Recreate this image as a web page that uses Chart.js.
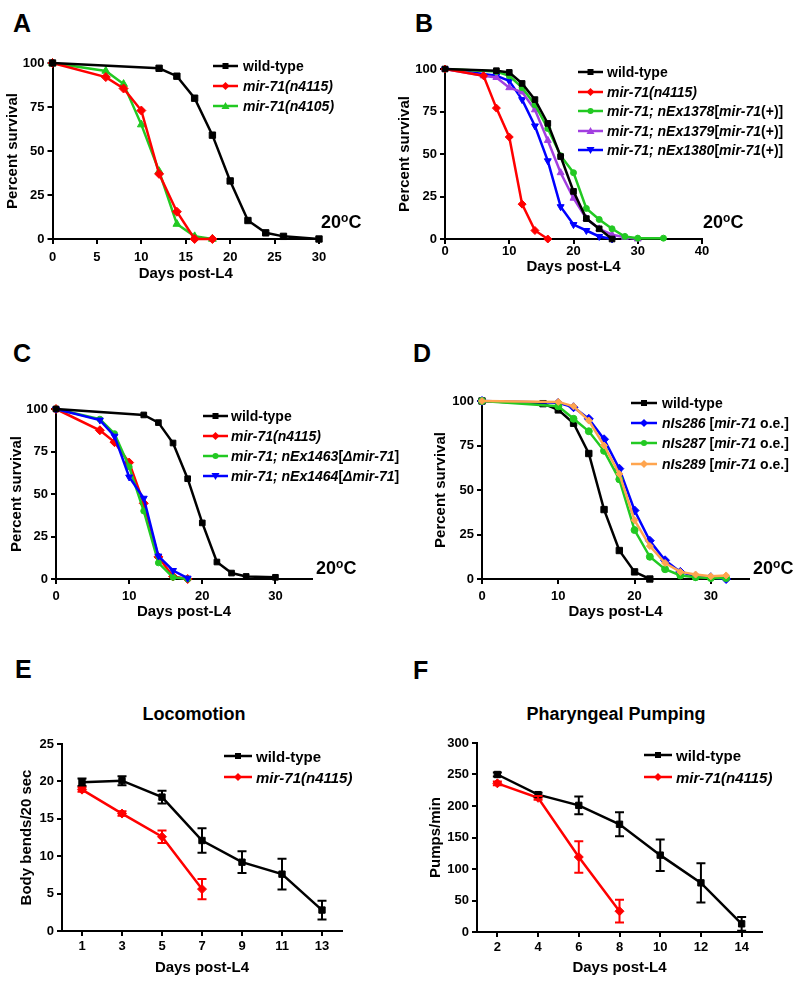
<!DOCTYPE html>
<html>
<head>
<meta charset="utf-8">
<script src="https://cdn.jsdelivr.net/npm/chart.js@4.4.1/dist/chart.umd.min.js"></script>
<style>
body { margin: 0; background: #fff; font-family: 'Liberation Sans', Arial, sans-serif; }
#page { position: relative; width: 800px; height: 984px; overflow: hidden; }
#page canvas { position: absolute; }
.txt { position: absolute; font-weight: bold; color: #000; white-space: nowrap; }
.letter { font-size: 25px; line-height: 25px; }
.temp { font-size: 18px; line-height: 22px; }
.temp sup { font-size: 12px; vertical-align: 6px; line-height: 0; }
.ptitle { font-size: 18px; line-height: 22px; transform: translateX(-50%); }
.legrow { position: absolute; height: 20px; display: flex; align-items: center; font-weight: bold; white-space: nowrap; }
</style>
</head>
<body>
<div id="page"></div>
<script>
'use strict';

// ---------- data ----------
// A
const daysA_wt = [0, 12, 14, 16, 18, 20, 22, 24, 26, 30];
const survA_wt = [100, 97, 92.5, 80, 59, 33, 10.5, 3.5, 1.5, 0];
const daysA_n4115 = [0, 6, 8, 10, 12, 14, 16, 18];
const survA_n4115 = [100, 92, 85.5, 73, 37, 15.5, 0, 0];
const daysA_n4105 = [0, 6, 8, 10, 12, 14, 16, 18];
const survA_n4105 = [100, 95.5, 88, 65, 38.5, 8.5, 1.5, 0];
const namesA = ['wild-type', '<i>mir-71(n4115)</i>', '<i>mir-71(n4105)</i>'];

// B
const daysB_wt = [0, 8, 10, 12, 14, 16, 18, 20, 22, 24, 26];
const survB_wt = [100, 99, 98, 91.5, 82, 68, 48.5, 28, 12, 6, 0];
const daysB_n4115 = [0, 6, 8, 10, 12, 14, 16];
const survB_n4115 = [100, 96, 77, 60, 20.5, 5, 0];
const daysB_1378 = [0, 8, 10, 12, 14, 16, 18, 20, 22, 24, 26, 28, 30, 34];
const survB_1378 = [100, 98.5, 96, 89, 79, 65, 49, 39, 18, 11.5, 6, 1.5, 0.5, 0.5];
const daysB_1379 = [0, 6, 8, 10, 12, 14, 16, 18, 20, 22, 24, 26, 28, 30];
const survB_1379 = [100, 96, 95, 89, 86.5, 76, 58, 39, 24, 12, 6, 2.5, 1, 0];
const daysB_1380 = [0, 8, 10, 12, 14, 16, 18, 20, 22, 24, 26];
const survB_1380 = [100, 96, 93, 82, 66.5, 46, 19, 8.5, 5, 1.5, 0];
const namesB = ['wild-type', '<i>mir-71(n4115)</i>',
    '<i>mir-71; nEx1378</i>[<i>mir-71</i>(+)]',
    '<i>mir-71; nEx1379</i>[<i>mir-71</i>(+)]',
    '<i>mir-71; nEx1380</i>[<i>mir-71</i>(+)]'];

// C
const daysC_wt = [0, 12, 14, 16, 18, 20, 22, 24, 26, 30];
const survC_wt = [100, 96.5, 92, 80, 59, 33, 10, 3.5, 1.5, 1];
const daysC_n4115 = [0, 6, 8, 10, 12, 14, 16, 18];
const survC_n4115 = [100, 87.5, 80.5, 68.5, 44.5, 13, 1.5, 0];
const daysC_1463 = [0, 6, 8, 10, 12, 14, 16, 18];
const survC_1463 = [100, 94, 85.5, 66, 40, 9.5, 1, 0];
const daysC_1464 = [0, 6, 8, 10, 12, 14, 16, 18];
const survC_1464 = [100, 93.5, 84, 60, 47.5, 13.5, 5, 0.5];
const namesC = ['wild-type', '<i>mir-71(n4115)</i>',
    '<i>mir-71; nEx1463</i>[<i>Δmir-71</i>]',
    '<i>mir-71; nEx1464</i>[<i>Δmir-71</i>]'];

// D
const daysD_wt = [0, 8, 10, 12, 14, 16, 18, 20, 22];
const survD_wt = [100, 98.5, 95, 87.5, 70.5, 39, 16, 4, 0];
const daysD_oe = [0, 10, 12, 14, 16, 18, 20, 22, 24, 26, 28, 30, 32];
const survD_286 = [100, 99, 96.5, 90, 78.5, 62, 38.5, 21.5, 10.5, 4, 1.5, 1, 0];
const survD_287 = [100, 97, 90, 83, 72, 56, 27.5, 12.5, 5.5, 2, 1, 0.5, 0.5];
const survD_289 = [100, 99.5, 97, 89, 75, 59, 33, 18.5, 9, 4, 2.5, 1.5, 2];
const namesD = ['wild-type',
    '<i>nIs286</i> [<i>mir-71</i> o.e.]',
    '<i>nIs287</i> [<i>mir-71</i> o.e.]',
    '<i>nIs289</i> [<i>mir-71</i> o.e.]'];

// E - locomotion
const daysE_wt = [1, 3, 5, 7, 9, 11, 13];
const bendsE_wt = [19.9, 20.1, 17.9, 12.1, 9.2, 7.6, 2.8];
const semE_wt = [0.5, 0.6, 0.85, 1.65, 1.45, 2.05, 1.25];
const daysE_mut = [1, 3, 5, 7];
const bendsE_mut = [18.9, 15.7, 12.6, 5.6];
const semE_mut = [0.3, 0.3, 0.85, 1.35];
const namesE = ['wild-type', '<i>mir-71(n4115)</i>'];

// F - pharyngeal pumping
const daysF_wt = [2, 4, 6, 8, 10, 12, 14];
const pumpsF_wt = [250, 218, 201, 171, 122, 78, 13];
const semF_wt = [3, 3, 14, 19, 25, 31, 11];
const daysF_mut = [2, 4, 6, 8];
const pumpsF_mut = [236, 213, 119, 33];
const semF_mut = [3, 3, 25, 18];
const namesF = ['wild-type', '<i>mir-71(n4115)</i>'];

// tick labels
const ticksSurv = [0, 25, 50, 75, 100];
const ticksA = [0, 5, 10, 15, 20, 25, 30];
const ticksB = [0, 10, 20, 30, 40];
const ticksCD = [0, 10, 20, 30];
const ticksE_x = [1, 3, 5, 7, 9, 11, 13];
const ticksE_y = [0, 5, 10, 15, 20, 25];
const ticksF_x = [2, 4, 6, 8, 10, 12, 14];
const ticksF_y = [0, 50, 100, 150, 200, 250, 300];

// ---------- style ----------
const BLACK = '#000000', RED = '#ff0000', GREEN = '#22c922', PURPLE = '#a23fe0', BLUE = '#0000ff', ORANGE = '#ffa54f';

Chart.defaults.font.family = "'Liberation Sans', Arial, sans-serif";
Chart.defaults.color = '#000';

const page = document.getElementById('page');

// error bars drawn through the y scale
const errorBars = {
    id: 'errorBars',
    afterDatasetsDraw(chart) {
        const ctx = chart.ctx;
        const yScale = chart.scales.y;
        chart.data.datasets.forEach(function(ds, i) {
            if (!ds.errors) return;
            const meta = chart.getDatasetMeta(i);
            ctx.save();
            ctx.strokeStyle = ds.borderColor;
            ctx.lineWidth = 2;
            meta.data.forEach(function(pt, j) {
                const v = ds.data[j].y, e = ds.errors[j];
                const top = yScale.getPixelForValue(v + e);
                const bot = yScale.getPixelForValue(v - e);
                ctx.beginPath();
                ctx.moveTo(pt.x, top); ctx.lineTo(pt.x, bot);
                ctx.moveTo(pt.x - 4.5, top); ctx.lineTo(pt.x + 4.5, top);
                ctx.moveTo(pt.x - 4.5, bot); ctx.lineTo(pt.x + 4.5, bot);
                ctx.stroke();
            });
            ctx.restore();
        });
    }
};

function series(name, xs, ys, color, style, radius, rotation, errors) {
    return {
        label: name.replace(/<[^>]+>/g, ''),
        data: xs.map(function(x, i) { return {x: x, y: ys[i]}; }),
        borderColor: color,
        backgroundColor: color,
        pointBorderColor: color,
        pointBackgroundColor: color,
        borderWidth: 2.5,
        pointStyle: style,
        pointRadius: radius,
        pointRotation: rotation || 0,
        pointBorderWidth: 1,
        tension: 0,
        clip: false,
        errors: errors
    };
}

function axis(min, max, tickList, title, pad, fit) {
    return {
        type: 'linear',
        min: min,
        max: max,
        afterBuildTicks: function(s) { s.ticks = tickList.map(function(v) { return {value: v}; }); },
        ticks: { color: '#000', font: {size: 13, weight: 'bold'}, padding: pad, autoSkip: false, maxRotation: 0 },
        grid: { drawOnChartArea: false, drawTicks: true, tickLength: 5, color: '#000', lineWidth: 2 },
        border: { color: '#000', width: 2 },
        title: { display: true, text: title, color: '#000', font: {size: 15, weight: 'bold'}, padding: {top: 2, bottom: 0} },
        afterFit: fit
    };
}

// area = wanted chart area in page pixels
function makePanel(area, yTitleX, xTitleY, xTickPad, xMin, xMax, xTicks, yMax, yTicks, yTitle, datasets) {
    const lh = 18;
    const left = yTitleX - lh / 2 - 2;
    const W = area.l - left;
    const H = xTitleY - area.b + lh / 2;
    const top = area.t - 12;
    const canvas = document.createElement('canvas');
    canvas.width = Math.round(W + area.r - area.l + 30);
    canvas.height = Math.round(area.b - top + H);
    canvas.style.left = left + 'px';
    canvas.style.top = top + 'px';
    page.appendChild(canvas);

    new Chart(canvas, {
        type: 'line',
        data: { datasets: datasets },
        options: {
            responsive: false,
            animation: false,
            layout: { padding: {left: 0, top: 12, right: 30, bottom: 0} },
            plugins: { legend: {display: false}, tooltip: {enabled: false} },
            scales: {
                x: axis(xMin, xMax, xTicks, 'Days post-L4', xTickPad, function(s) { s.height = H; }),
                y: axis(0, yMax, yTicks, yTitle, 3, function(s) { s.width = W; })
            }
        },
        plugins: [errorBars]
    });
}

function addText(cls, html, x, y) {
    const d = document.createElement('div');
    d.className = 'txt ' + cls;
    d.innerHTML = html;
    d.style.left = x + 'px';
    d.style.top = y + 'px';
    page.appendChild(d);
}

function markerSvg(style, color, cx, cy) {
    if (style === 'rect') return '<rect x="' + (cx - 3) + '" y="' + (cy - 3) + '" width="6" height="6" fill="' + color + '"/>';
    if (style === 'circle') return '<circle cx="' + cx + '" cy="' + cy + '" r="3" fill="' + color + '"/>';
    if (style === 'triangle') return '<polygon points="' + cx + ',' + (cy - 4) + ' ' + (cx + 4) + ',' + (cy + 3) + ' ' + (cx - 4) + ',' + (cy + 3) + '" fill="' + color + '"/>';
    if (style === 'triangleDown') return '<polygon points="' + cx + ',' + (cy + 4) + ' ' + (cx + 4) + ',' + (cy - 3) + ' ' + (cx - 4) + ',' + (cy - 3) + '" fill="' + color + '"/>';
    return '<polygon points="' + cx + ',' + (cy - 4) + ' ' + (cx + 4) + ',' + cy + ' ' + cx + ',' + (cy + 4) + ' ' + (cx - 4) + ',' + cy + '" fill="' + color + '"/>';
}

function addLegend(leg, names, colors, styles, fontSize) {
    names.forEach(function(name, i) {
        const row = document.createElement('div');
        row.className = 'legrow';
        row.style.left = leg.lineX + 'px';
        row.style.top = (leg.rows[i] - 10) + 'px';
        row.style.fontSize = fontSize + 'px';
        const L = leg.lineLen;
        row.innerHTML = '<svg width="' + L + '" height="12" style="flex:none">' +
            '<line x1="0" y1="6" x2="' + L + '" y2="6" stroke="' + colors[i] + '" stroke-width="2.5"/>' +
            markerSvg(styles[i], colors[i], L / 2, 6) + '</svg>' +
            '<span style="margin-left:' + (leg.textX - leg.lineX - L) + 'px">' + name + '</span>';
        page.appendChild(row);
    });
}

// ---------- panel A ----------
makePanel({l: 52, t: 63, r: 318, b: 239}, 12.5, 274, 6, 0, 30, ticksA, 100, ticksSurv, 'Percent survival', [
    series(namesA[0], daysA_wt, survA_wt, BLACK, 'rect', 4.5),
    series(namesA[1], daysA_n4115, survA_n4115, RED, 'rectRot', 4.5),
    series(namesA[2], daysA_n4105, survA_n4105, GREEN, 'triangle', 4.5)
]);
addLegend({lineX: 213, lineLen: 25, textX: 243, rows: [66, 86, 106]}, namesA,
    [BLACK, RED, GREEN], ['rect', 'diamond', 'triangle'], 14);

// ---------- panel B ----------
makePanel({l: 445, t: 69, r: 702, b: 239}, 405, 267, 0, 0, 40, ticksB, 100, ticksSurv, 'Percent survival', [
    series(namesB[0], daysB_wt, survB_wt, BLACK, 'rect', 4),
    series(namesB[1], daysB_n4115, survB_n4115, RED, 'rectRot', 4),
    series(namesB[2], daysB_1378, survB_1378, GREEN, 'circle', 3),
    series(namesB[3], daysB_1379, survB_1379, PURPLE, 'triangle', 4),
    series(namesB[4], daysB_1380, survB_1380, BLUE, 'triangle', 4, 180)
]);
addLegend({lineX: 578, lineLen: 25, textX: 607, rows: [72, 92, 111, 131, 150]}, namesB,
    [BLACK, RED, GREEN, PURPLE, BLUE], ['rect', 'diamond', 'circle', 'triangle', 'triangleDown'], 14);

// ---------- panel C ----------
makePanel({l: 56, t: 409, r: 312, b: 579}, 17, 612, 5, 0, 35, ticksCD, 100, ticksSurv, 'Percent survival', [
    series(namesC[0], daysC_wt, survC_wt, BLACK, 'rect', 4),
    series(namesC[3], daysC_1464, survC_1464, BLUE, 'triangle', 4, 180),
    series(namesC[2], daysC_1463, survC_1463, GREEN, 'circle', 3),
    series(namesC[1], daysC_n4115, survC_n4115, RED, 'rectRot', 4.5)
]);
addLegend({lineX: 203, lineLen: 25, textX: 231, rows: [416, 436, 456, 476]}, namesC,
    [BLACK, RED, GREEN, BLUE], ['rect', 'diamond', 'circle', 'triangleDown'], 14);

// ---------- panel D ----------
makePanel({l: 482, t: 401, r: 749, b: 579}, 441, 612, 5, 0, 35, ticksCD, 100, ticksSurv, 'Percent survival', [
    series(namesD[3], daysD_oe, survD_289, ORANGE, 'rectRot', 3.5),
    series(namesD[2], daysD_oe, survD_287, GREEN, 'circle', 3.5),
    series(namesD[1], daysD_oe, survD_286, BLUE, 'rectRot', 4.5),
    series(namesD[0], daysD_wt, survD_wt, BLACK, 'rect', 4.5)
]);
addLegend({lineX: 631, lineLen: 26, textX: 662, rows: [403, 423, 443, 464]}, namesD,
    [BLACK, BLUE, GREEN, ORANGE], ['rect', 'diamond', 'circle', 'diamond'], 14);

// ---------- panel E ----------
makePanel({l: 62, t: 744, r: 342, b: 931}, 27, 968, 3, 0, 14, ticksE_x, 25, ticksE_y, 'Body bends/20 sec', [
    series(namesE[0], daysE_wt, bendsE_wt, BLACK, 'rect', 4.5, 0, semE_wt),
    series(namesE[1], daysE_mut, bendsE_mut, RED, 'rectRot', 4.5, 0, semE_mut)
]);
addLegend({lineX: 224, lineLen: 28, textX: 256, rows: [756, 777]}, namesE, [BLACK, RED], ['rect', 'diamond'], 15);

// ---------- panel F ----------
makePanel({l: 477, t: 743, r: 762, b: 932}, 436, 968, 3, 1, 15, ticksF_x, 300, ticksF_y, 'Pumps/min', [
    series(namesF[0], daysF_wt, pumpsF_wt, BLACK, 'rect', 4.5, 0, semF_wt),
    series(namesF[1], daysF_mut, pumpsF_mut, RED, 'rectRot', 4.5, 0, semF_mut)
]);
addLegend({lineX: 644, lineLen: 28, textX: 676, rows: [755, 777]}, namesF, [BLACK, RED], ['rect', 'diamond'], 15);

// ---------- letters, titles, temperature ----------
addText('letter', 'A', 13, 11);
addText('letter', 'B', 415, 11);
addText('letter', 'C', 13, 341);
addText('letter', 'D', 413, 341);
addText('letter', 'E', 15, 657);
addText('letter', 'F', 413, 658);

addText('ptitle', 'Locomotion', 194, 703);
addText('ptitle', 'Pharyngeal Pumping', 616, 703);

addText('temp', '20<sup>o</sup>C', 321, 211);
addText('temp', '20<sup>o</sup>C', 703, 211);
addText('temp', '20<sup>o</sup>C', 316, 557);
addText('temp', '20<sup>o</sup>C', 753, 557);
</script>
</body>
</html>
